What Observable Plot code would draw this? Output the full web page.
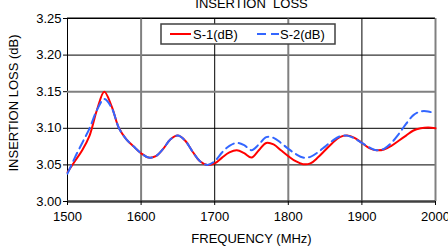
<!DOCTYPE html>
<html><head><meta charset="utf-8">
<script src="https://cdn.jsdelivr.net/npm/d3@7"></script>
<script src="https://cdn.jsdelivr.net/npm/@observablehq/plot@0.6"></script>
<style>body{margin:0;background:#fff;}#chart{width:448px;height:248px;overflow:hidden}</style>
</head><body><div id="chart"></div>
<script>
const freq = [1500,1510,1520,1530,1540,1550,1560,1570,1580,1590,1600,1610,1620,1630,1640,1650,1660,1670,1680,1690,1700,1710,1720,1730,1740,1750,1760,1770,1780,1790,1800,1810,1820,1830,1840,1850,1860,1870,1880,1890,1900,1910,1920,1930,1940,1950,1960,1970,1980,1990,2000];
const s1 = [3.040,3.055,3.070,3.090,3.125,3.150,3.130,3.100,3.085,3.075,3.066,3.060,3.062,3.072,3.085,3.090,3.083,3.068,3.055,3.050,3.052,3.060,3.067,3.070,3.066,3.060,3.070,3.080,3.078,3.070,3.062,3.055,3.051,3.052,3.060,3.070,3.080,3.088,3.090,3.087,3.080,3.073,3.070,3.071,3.076,3.083,3.090,3.097,3.100,3.101,3.100];
const s2 = [3.038,3.060,3.080,3.100,3.125,3.140,3.128,3.100,3.085,3.075,3.066,3.060,3.062,3.072,3.085,3.090,3.083,3.068,3.055,3.050,3.055,3.067,3.076,3.080,3.077,3.070,3.078,3.088,3.087,3.080,3.072,3.065,3.060,3.061,3.067,3.075,3.083,3.089,3.090,3.086,3.080,3.074,3.070,3.072,3.080,3.092,3.106,3.118,3.123,3.123,3.120];
const xTicks = [1500,1600,1700,1800,1900,2000];
const yTicks = [3.00,3.05,3.10,3.15,3.20,3.25];
const seriesNames = ["S-1(dB)","S-2(dB)"];
const title = "INSERTION  LOSS";
const xLabel = "FREQUENCY (MHz)";
const yLabel = "INSERTION LOSS (dB)";

const d1 = freq.map((f,i)=>({f, v:s1[i]}));
const d2 = freq.map((f,i)=>({f, v:s2[i]}));
const thickX = [1600,1800,2000];
const thinX = [1500,1700,1900];
const thickY = [3.15];
const thinY = [3.05,3.10,3.20,3.25];
const font = "Liberation Sans, Arial, sans-serif";

const plot = Plot.plot({
  width: 448, height: 248,
  marginLeft: 67, marginRight: 13, marginTop: 18, marginBottom: 47,
  style: {fontFamily: font, fontSize: "13px", color: "#000", background: "#fff", overflow: "visible"},
  x: {domain: [1500, 2000], ticks: xTicks, label: null},
  y: {domain: [3.00, 3.25], ticks: yTicks, label: null},
  marks: [
    Plot.ruleY(thinY, {stroke: "#000", strokeWidth: 1}),
    Plot.ruleX(thinX, {stroke: "#000", strokeWidth: 1}),
    Plot.ruleX(thickX, {stroke: "#808080", strokeWidth: 2}),
    Plot.ruleY(thickY, {stroke: "#808080", strokeWidth: 2}),
    Plot.ruleY([3.00], {stroke: "#404040", strokeWidth: 2.5}),
    Plot.axisX({ticks: xTicks, tickFormat: d => String(d), tickSize: 4, tickPadding: 6, fontSize: 13, stroke:"#000"}),
    Plot.axisY({ticks: yTicks, tickFormat: d => d.toFixed(2), tickSize: 4, tickPadding: 2, fontSize: 13, stroke:"#000"}),
    Plot.line(d1, {x: "f", y: "v", stroke: "#ff0000", strokeWidth: 2, curve: "catmull-rom"}),
    Plot.line(d2, {x: "f", y: "v", stroke: "#3366ff", strokeWidth: 2, strokeDasharray: "9,5", curve: "catmull-rom"}),
    Plot.text([title], {frameAnchor: "top", dy: -20, fontSize: 13, fill: "#000", textAnchor: "middle"}),
    Plot.text([xLabel], {frameAnchor: "bottom", dy: 41, fontSize: 13, fill: "#000", textAnchor: "middle"}),
    Plot.text([yLabel], {frameAnchor: "left", dx: -54, dy: -7, rotate: -90, fontSize: 13, fill: "#000", textAnchor: "middle"})
  ]
});
document.getElementById("chart").appendChild(plot);

// legend box inside the plot, drawn in the SVG
const svg = d3.select(plot);
const lg = svg.append("g").attr("transform", "translate(161,24)");
lg.append("rect").attr("width", 174).attr("height", 20).attr("fill", "#fff").attr("stroke", "#404040").attr("stroke-width", 1.5);
lg.append("line").attr("x1", 9).attr("x2", 30).attr("y1", 10).attr("y2", 10).attr("stroke", "#ff0000").attr("stroke-width", 2);
lg.append("text").attr("x", 32).attr("y", 14.5).attr("font-size", 13).attr("text-anchor", "start").attr("font-family", font).text(seriesNames[0]);
lg.append("line").attr("x1", 96).attr("x2", 118).attr("y1", 10).attr("y2", 10).attr("stroke", "#3366ff").attr("stroke-width", 2).attr("stroke-dasharray", "9,5");
lg.append("text").attr("x", 119).attr("y", 14.5).attr("font-size", 13).attr("text-anchor", "start").attr("font-family", font).text(seriesNames[1]);
// frame top
svg.append("line").attr("x1",67).attr("x2",435).attr("y1",18).attr("y2",18).attr("stroke","#000");
</script>
</body></html>
